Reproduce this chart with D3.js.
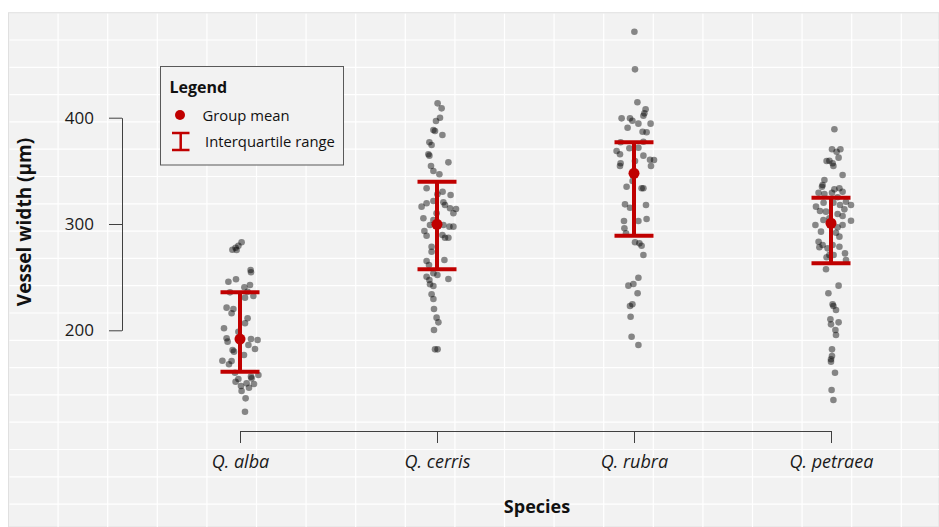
<!DOCTYPE html>
<html>
<head>
<meta charset="utf-8">
<script src="https://cdn.jsdelivr.net/npm/d3@7"></script>
<style>
  html, body { margin: 0; padding: 0; background: #ffffff; }
  svg { display: block; font-family: "Open Sans", sans-serif; }
</style>
</head>
<body>
<div id="chart"></div>
<script>
// species shown on the x axis
const species = ['Q. alba', 'Q. cerris', 'Q. rubra', 'Q. petraea'];

// summary stats per species
const meanValues = [191.8, 299.7, 347.7, 300.7];
const q1Values = [161.0, 257.4, 289.0, 263.0];
const q3Values = [235.7, 339.8, 376.9, 324.8];

const yTicks = [200, 300, 400];

// raw vessel widths (µm) and horizontal jitter (-1..1) per species
const albaValues = [282.8, 279.6, 277.7, 275.8, 275.5, 256.7, 254.6, 245.7, 248.0, 240.5, 242.6, 235.7, 230.7, 232.3, 236.3, 221.3, 216.0, 220.0, 211.3, 206.6, 201.9, 198.7, 192.5, 189.3, 191.8, 190.9, 186.2, 182.4, 181.5, 179.9, 176.8, 171.4, 171.1, 168.0, 160.1, 151.6, 154.2, 150.1, 154.8, 157.9, 147.6, 146.0, 149.5, 142.9, 136.0, 123.4, 156.4];
const albaJitter = [0.08, -0.08, -0.22, -0.38, -0.17, 0.53, 0.55, -0.58, -0.2, 0.22, 0.5, -0.5, 0.25, 0.67, 0.38, -0.67, -0.42, -0.33, 0.38, 0.25, -0.8, -0.08, -0.67, -0.62, 0.55, 0.88, 0.42, 0.75, -0.37, -0.3, 0.2, -0.88, -0.42, -0.55, -0.25, -0.22, -0.08, 0.33, 0.58, 0.92, 0.05, 0.45, 0.7, 0.08, 0.28, 0.25, 0.55];

const cerrisValues = [413.5, 408.8, 400.0, 396.9, 388.4, 387.5, 383.7, 376.9, 374.3, 365.6, 364.3, 358.0, 354.6, 349.9, 346.8, 333.6, 330.4, 327.3, 327.9, 319.5, 321.6, 320.4, 316.3, 317.9, 314.8, 314.1, 310.1, 310.1, 305.4, 303.8, 299.1, 299.1, 297.5, 297.5, 293.4, 289.0, 289.7, 287.1, 287.1, 278.6, 273.9, 266.1, 265.2, 261.4, 253.6, 252.0, 250.4, 248.3, 247.3, 243.3, 241.7, 233.9, 229.4, 220.0, 211.9, 207.5, 200.3, 182.1, 182.1];
const cerrisJitter = [0.03, 0.23, 0.15, -0.05, -0.18, -0.1, 0.27, -0.38, -0.27, -0.43, -0.38, 0.57, -0.3, -0.18, 0.12, -0.52, 0.28, 0.68, 0.02, -0.52, -0.18, 0.32, -0.77, 0.4, 0.65, 0.95, 0.82, -0.02, -0.68, -0.18, -0.35, 0.32, 0.82, 0.62, -0.63, -0.52, 0.27, 0.4, 0.57, -0.27, -0.27, 0.37, -0.52, -0.4, -0.18, 0.02, -0.52, 0.57, -0.38, -0.35, -0.18, -0.27, -0.18, -0.15, -0.02, 0.07, -0.15, -0.1, 0.03];

const rubraValues = [480.9, 445.5, 414.5, 407.9, 404.1, 401.9, 399.4, 399.4, 397.2, 394.4, 394.4, 390.6, 386.8, 386.3, 376.9, 377.4, 371.2, 371.8, 368.7, 365.6, 364.3, 359.3, 360.5, 360.2, 357.1, 354.6, 354.6, 340.5, 335.1, 333.6, 333.6, 318.5, 315.3, 317.9, 302.8, 304.7, 302.8, 296.0, 291.3, 282.8, 281.8, 279.6, 270.8, 249.5, 243.6, 242.0, 234.8, 224.5, 222.9, 212.8, 194.0, 186.2];
const rubraJitter = [0.02, 0.05, 0.17, 0.58, 0.52, 0.47, -0.62, -0.2, -0.08, 0.22, 0.83, -0.32, 0.43, 0.63, -0.67, 0.47, -0.23, 0.22, -0.87, -0.7, 0.47, 0.05, 0.8, 1.0, -0.67, -0.7, 0.85, -0.07, -0.37, 0.38, 0.47, -0.45, -0.2, 0.6, -0.5, 0.63, 0.22, -0.48, -0.4, 0.05, 0.27, 0.38, 0.47, 0.22, -0.03, -0.28, 0.18, -0.08, -0.2, -0.17, -0.12, 0.22];

const petraeaValues = [389.1, 370.3, 368.0, 370.3, 359.3, 359.5, 357.1, 354.6, 362.4, 346.1, 341.4, 336.7, 335.1, 332.6, 333.6, 330.4, 329.4, 328.2, 329.4, 325.1, 321.0, 317.9, 316.3, 320.0, 320.0, 317.9, 313.8, 312.2, 311.6, 309.4, 307.5, 303.1, 299.1, 303.8, 305.4, 299.1, 296.9, 292.8, 291.8, 288.1, 283.3, 280.2, 278.1, 277.1, 280.2, 278.6, 272.4, 270.8, 268.7, 270.8, 266.1, 257.4, 242.0, 234.8, 224.5, 222.9, 219.1, 210.3, 207.5, 205.6, 200.3, 195.6, 182.1, 175.8, 172.7, 170.5, 160.1, 143.8, 134.4];
const petraeaJitter = [0.17, 0.05, 0.28, 0.47, -0.22, -0.08, 0.08, 0.12, 0.38, 0.58, -0.33, -0.42, -0.45, 0.17, 0.42, 0.58, -0.62, -0.33, 0.05, 0.33, 0.75, 1.0, -0.75, -0.37, 0.12, 0.45, 0.67, -0.55, -0.25, 0.33, 0.58, 1.0, -0.78, -0.38, -0.08, 0.58, 0.33, -0.5, 0.25, 0.42, -0.62, -0.42, -0.58, -0.17, 0.08, 0.42, 0.7, -0.08, -0.22, 0.13, 0.75, -0.25, 0.38, -0.13, 0.08, 0.12, 0.25, -0.03, 0.38, 0, 0.22, 0.25, 0.05, 0.05, 0, 0, 0.2, 0.03, 0.12];

const groupValues = [albaValues, cerrisValues, rubraValues, petraeaValues];
const groupJitter = [albaJitter, cerrisJitter, rubraJitter, petraeaJitter];

const W = 939, H = 527;
const RED = '#c00000';

const svg = d3.select('#chart').append('svg')
  .attr('width', W)
  .attr('height', H);

// spreadsheet-like background panel
const panel = { x: 8.5, y: 12.7 };
svg.append('rect')
  .attr('x', panel.x).attr('y', panel.y)
  .attr('width', W - panel.x).attr('height', H - panel.y)
  .attr('fill', '#f2f2f2')
  .attr('stroke', '#e0e0e0');

const gridG = svg.append('g').attr('stroke', '#ffffff').attr('stroke-width', 1.2);
gridG.selectAll('.vgrid').data(d3.range(panel.x + 49.6, W, 49.6))
  .join('line')
  .attr('x1', d => d).attr('x2', d => d)
  .attr('y1', panel.y + 1).attr('y2', H);
gridG.selectAll('.hgrid').data(d3.range(panel.y + 27.3, H, 27.3))
  .join('line')
  .attr('x1', panel.x + 1).attr('x2', W)
  .attr('y1', d => d).attr('y2', d => d);

const x = d3.scalePoint().domain(species).range([240, 831]);
const y = d3.scaleLinear().domain([200, 400]).range([330.3, 117.7]);
const jitter = d3.scaleLinear().domain([-1, 1]).range([-20, 20]);

// y axis
const yAxis = svg.append('g')
  .attr('transform', 'translate(122,0)')
  .call(d3.axisLeft(y).tickValues(yTicks).tickSize(13).tickSizeOuter(0).tickPadding(15));
yAxis.select('.domain').attr('stroke', '#404040');
yAxis.selectAll('.tick line').attr('stroke', '#404040');
yAxis.selectAll('.tick text')
  .attr('font-family', '"Open Sans", sans-serif')
  .attr('font-size', 17)
  .attr('fill', '#1a1a1a');

// x axis
const xAxis = svg.append('g')
  .attr('transform', 'translate(0,431)')
  .call(d3.axisBottom(x).tickSize(12).tickSizeOuter(0).tickPadding(12));
xAxis.select('.domain').attr('stroke', '#404040');
xAxis.selectAll('.tick line').attr('stroke', '#404040');
xAxis.selectAll('.tick text')
  .attr('font-family', '"Open Sans", sans-serif')
  .attr('font-style', 'italic')
  .attr('font-size', 18)
  .attr('fill', '#1a1a1a');

// axis titles
svg.append('text')
  .attr('transform', 'translate(31,222) rotate(-90)')
  .attr('text-anchor', 'middle')
  .attr('font-size', 19)
  .attr('font-weight', 700)
  .attr('fill', '#111')
  .text('Vessel width (µm)');

svg.append('text')
  .attr('x', 537).attr('y', 513)
  .attr('text-anchor', 'middle')
  .attr('font-size', 18)
  .attr('font-weight', 700)
  .attr('fill', '#111')
  .text('Species');

// jittered raw points
const pts = species.flatMap((s, i) =>
  groupValues[i].map((v, k) => ({ species: s, value: v, j: groupJitter[i][k] })));

svg.append('g').selectAll('circle').data(pts)
  .join('circle')
  .attr('cx', d => x(d.species) + jitter(d.j))
  .attr('cy', d => y(d.value))
  .attr('r', 3.3)
  .attr('fill', '#000')
  .attr('fill-opacity', 0.45);

// IQR bars + mean
const stats = species.map((s, i) => ({ species: s, mean: meanValues[i], q1: q1Values[i], q3: q3Values[i] }));
const capHalf = 19.5;
const statG = svg.append('g').selectAll('g').data(stats).join('g');

statG.append('line')
  .attr('x1', d => x(d.species)).attr('x2', d => x(d.species))
  .attr('y1', d => y(d.q1)).attr('y2', d => y(d.q3))
  .attr('stroke', RED).attr('stroke-width', 4);
statG.append('line')
  .attr('x1', d => x(d.species) - capHalf).attr('x2', d => x(d.species) + capHalf)
  .attr('y1', d => y(d.q3)).attr('y2', d => y(d.q3))
  .attr('stroke', RED).attr('stroke-width', 4);
statG.append('line')
  .attr('x1', d => x(d.species) - capHalf).attr('x2', d => x(d.species) + capHalf)
  .attr('y1', d => y(d.q1)).attr('y2', d => y(d.q1))
  .attr('stroke', RED).attr('stroke-width', 4);
statG.append('circle')
  .attr('cx', d => x(d.species))
  .attr('cy', d => y(d.mean))
  .attr('r', 5.5)
  .attr('fill', RED);

// legend
const legend = svg.append('g').attr('transform', 'translate(160.5,66.5)');
legend.append('rect')
  .attr('width', 183).attr('height', 98.5)
  .attr('fill', '#f2f2f2')
  .attr('stroke', '#595959')
  .attr('stroke-width', 1);
legend.append('text')
  .attr('x', 9).attr('y', 26)
  .attr('font-size', 16).attr('font-weight', 700).attr('fill', '#111')
  .text('Legend');
legend.append('circle')
  .attr('cx', 19.5).attr('cy', 48.5).attr('r', 5)
  .attr('fill', RED);
legend.append('text')
  .attr('x', 42).attr('y', 54)
  .attr('font-size', 14.8).attr('fill', '#111')
  .text('Group mean');
legend.append('path')
  .attr('d', 'M11.5,66.5H29M11.5,83.5H29M20.2,66.5V83.5')
  .attr('stroke', RED).attr('stroke-width', 2.5).attr('fill', 'none');
legend.append('text')
  .attr('x', 44.5).attr('y', 80.5)
  .attr('font-size', 14.8).attr('fill', '#111')
  .text('Interquartile range');
</script>
</body>
</html>
